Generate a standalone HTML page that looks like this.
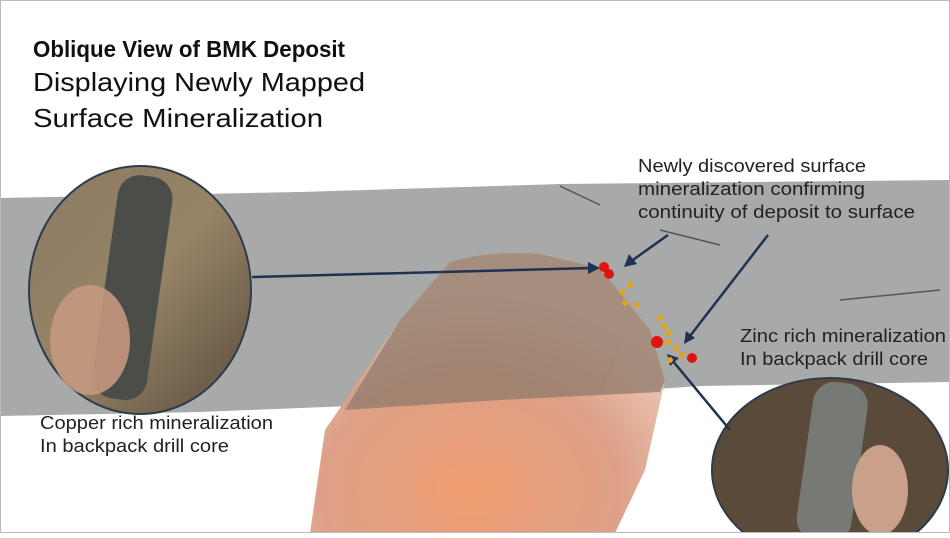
<!DOCTYPE html>
<html><head><style>
body{margin:0;width:950px;height:533px;overflow:hidden;background:#fff;font-family:"Liberation Sans",sans-serif}
</style></head><body>
<svg width="950" height="533" viewBox="0 0 950 533" xmlns="http://www.w3.org/2000/svg" font-family="Liberation Sans, sans-serif">
<defs>
<radialGradient id="org" cx="0.45" cy="0.85" r="0.7"><stop offset="0" stop-color="#ee9360"/><stop offset="0.6" stop-color="#d9957a"/><stop offset="1" stop-color="#e9c4b0"/></radialGradient>
<linearGradient id="ph" x1="0" y1="0" x2="1" y2="1"><stop offset="0" stop-color="#8a7a62"/><stop offset="0.5" stop-color="#978468"/><stop offset="1" stop-color="#5a4c3c"/></linearGradient>
</defs>
<rect width="950" height="533" fill="#fff"/>
<path d="M0 198 L300 192 L560 184 L950 180 L950 382 L700 386 L500 400 L200 412 L0 416 Z" fill="#a8aaa9"/>
<path d="M560 186 L600 205 M660 230 L720 245 M840 300 L940 290 M620 345 L600 390" stroke="#555" stroke-width="1.5" fill="none"/>
<path d="M450 262 Q490 250 540 254 L600 268 L650 330 L665 380 L645 470 L615 533 L310 533 L325 430 L400 320 Z" fill="url(#org)" opacity="0.9"/>
<path d="M450 262 Q490 250 540 254 L600 268 L650 330 L665 380 L660 392 L500 400 L345 410 L400 320 Z" fill="#907c6c" opacity="0.75"/>
<ellipse cx="140" cy="290" rx="111" ry="124" fill="url(#ph)" stroke="#2f3b4a" stroke-width="2"/>
<rect x="105" y="175" width="55" height="225" rx="22" fill="#4a4d48" transform="rotate(8 132 287)"/>
<ellipse cx="90" cy="340" rx="40" ry="55" fill="#c49880" opacity="0.9"/>
<ellipse cx="830" cy="470" rx="118" ry="92" fill="#5a4a3a" stroke="#2f3b4a" stroke-width="2"/>
<rect x="805" y="382" width="55" height="160" rx="22" fill="#777a74" transform="rotate(8 832 460)"/>
<ellipse cx="880" cy="490" rx="28" ry="45" fill="#c9a08a"/>
<g stroke="#1f3350" stroke-width="2.5" fill="#1f3350">
<line x1="252" y1="277" x2="592" y2="268"/><polygon points="600,268 588,262 588,274" stroke="none"/>
<line x1="668" y1="235" x2="630" y2="262"/><polygon points="624,267 629,254 637,264" stroke="none"/>
<line x1="768" y1="235" x2="690" y2="336"/><polygon points="684,344 686,331 695,338" stroke="none"/>
<line x1="730" y1="430" x2="672" y2="360"/><polygon points="667,354 679,358 670,366" stroke="none"/>
</g>
<g fill="#e4a21a"><circle cx="630" cy="285" r="3"/><circle cx="622" cy="292" r="3"/><circle cx="625" cy="303" r="3"/><circle cx="636" cy="305" r="3"/><circle cx="660" cy="318" r="3"/><circle cx="664" cy="326" r="3"/><circle cx="668" cy="333" r="3"/><circle cx="668" cy="342" r="3"/><circle cx="676" cy="348" r="3"/><circle cx="682" cy="355" r="3"/><circle cx="670" cy="360" r="3"/></g>
<g fill="#e0140f"><circle cx="604" cy="267" r="5"/><circle cx="609" cy="274" r="5"/><circle cx="657" cy="342" r="6"/><circle cx="692" cy="358" r="5"/></g>
<text x="33" y="57" font-size="23" font-weight="bold" fill="#111" textLength="312" lengthAdjust="spacingAndGlyphs">Oblique View of BMK Deposit</text>
<text x="33" y="91" font-size="26" fill="#111" textLength="332" lengthAdjust="spacingAndGlyphs">Displaying Newly Mapped</text>
<text x="33" y="127" font-size="26" fill="#111" textLength="290" lengthAdjust="spacingAndGlyphs">Surface Mineralization</text>
<g font-size="18" fill="#222" lengthAdjust="spacingAndGlyphs">
<text x="638" y="172" textLength="228" lengthAdjust="spacingAndGlyphs">Newly discovered surface</text>
<text x="638" y="195" textLength="227" lengthAdjust="spacingAndGlyphs">mineralization confirming</text>
<text x="638" y="218" textLength="277" lengthAdjust="spacingAndGlyphs">continuity of deposit to surface</text>
<text x="740" y="342" textLength="206" lengthAdjust="spacingAndGlyphs">Zinc rich mineralization</text>
<text x="740" y="365" textLength="188" lengthAdjust="spacingAndGlyphs">In backpack drill core</text>
<text x="40" y="429" textLength="233" lengthAdjust="spacingAndGlyphs">Copper rich mineralization</text>
<text x="40" y="452" textLength="189" lengthAdjust="spacingAndGlyphs">In backpack drill core</text>
</g>
<rect x="0.5" y="0.5" width="949" height="532" fill="none" stroke="#bbb"/>
</svg>
</body></html>
